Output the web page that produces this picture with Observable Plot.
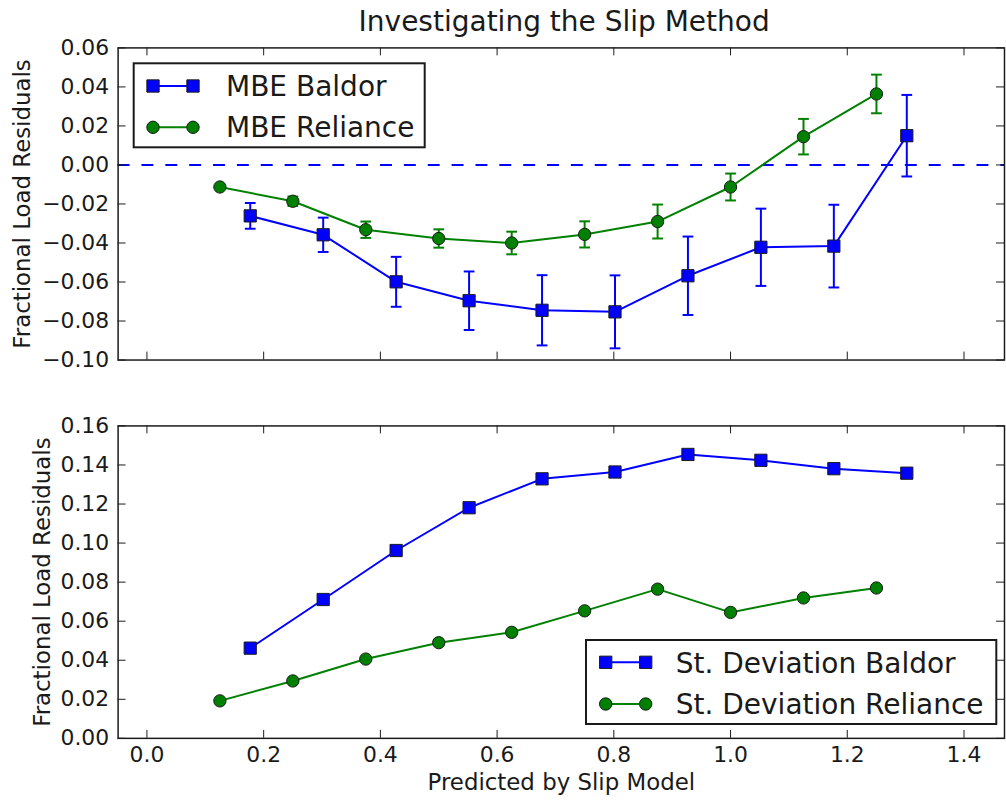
<!DOCTYPE html>
<html><head><meta charset="utf-8">
<script src="https://cdn.jsdelivr.net/npm/d3@7"></script>
<script src="https://cdn.jsdelivr.net/npm/@observablehq/plot@0.6"></script>
<style>
html,body{margin:0;padding:0;background:#fff;overflow:hidden;}
#wrap{position:relative;width:1006px;height:800px;overflow:hidden;font-family:"DejaVu Sans",sans-serif;background:#fff;}
#wrap > *{position:absolute;}
#title{left:118.3px;width:891.7px;top:8px;text-align:center;font-size:28px;line-height:28px;color:#1a1a1a;white-space:nowrap;}
</style></head><body><div id="wrap"><div id="title">Investigating the Slip Method</div></div>
<script>
// ---- data ----
const xReliance = [0.125, 0.25, 0.375, 0.5, 0.625, 0.75, 0.875, 1.0, 1.125, 1.25];
const xBaldor   = [0.177, 0.302, 0.427, 0.552, 0.677, 0.802, 0.927, 1.052, 1.177, 1.302];
const mbeBaldor      = [-0.0261, -0.0358, -0.0599, -0.0696, -0.0745, -0.0753, -0.0568, -0.0422, -0.0416, 0.0150];
const mbeBaldorErr   = [0.0066, 0.0088, 0.0128, 0.0150, 0.0180, 0.0187, 0.0201, 0.0198, 0.0212, 0.0209];
const mbeReliance    = [-0.0113, -0.0186, -0.0332, -0.0377, -0.0400, -0.0356, -0.0290, -0.0113, 0.0145, 0.0364];
const mbeRelianceErr = [0.0000, 0.0024, 0.0042, 0.0047, 0.0058, 0.0067, 0.0087, 0.0069, 0.0091, 0.0099];
const sdBaldor   = [0.0462, 0.0711, 0.0962, 0.1181, 0.1329, 0.1364, 0.1454, 0.1424, 0.1381, 0.1358];
const sdReliance = [0.0192, 0.0294, 0.0406, 0.0490, 0.0543, 0.0653, 0.0764, 0.0645, 0.0719, 0.0770];
const xTicks = [0, 0.2, 0.4, 0.6, 0.8, 1.0, 1.2, 1.4];
const yTicksTop = [-0.10, -0.08, -0.06, -0.04, -0.02, 0.00, 0.02, 0.04, 0.06];
const yTicksBottom = [0.00, 0.02, 0.04, 0.06, 0.08, 0.10, 0.12, 0.14, 0.16];
const legendTop = ["MBE Baldor", "MBE Reliance"];
const legendBottom = ["St. Deviation Baldor", "St. Deviation Reliance"];

// ---- tables ----
const balTop = xBaldor.map((x, i) => ({x, y: mbeBaldor[i], e: mbeBaldorErr[i]}));
const relTop = xReliance.map((x, i) => ({x, y: mbeReliance[i], e: mbeRelianceErr[i]}));
const balBot = xBaldor.map((x, i) => ({x, y: sdBaldor[i]}));
const relBot = xReliance.map((x, i) => ({x, y: sdReliance[i]}));

// ---- layout/style ----
const BLUE = "#0000ff", GREEN = "#008000", INK = "#1a1a1a";
const FW = 1012, ML = 118.3, MR = 2;
const xDomain = [-0.0494, 1.4694];
const topH = 380, topMT = 47.7, topMB = 18.3;
const botH = 420, botMT = 45.7, botMB = 60;
const TICK = 8;
const frameW = FW - ML - MR;
const SQ_R = 6.94, CIRC_R = 6.2;

const capSymbol = {draw(ctx, size) { const w = Math.sqrt(size / Math.PI); ctx.moveTo(-w, 0); ctx.lineTo(w, 0); }};

function tickMarks(yt, frameH) {
  const o = {stroke: INK, strokeWidth: 1};
  return [
    Plot.tickX(xTicks, {x: d => d, insetTop: frameH - TICK, ...o}),
    Plot.tickX(xTicks, {x: d => d, insetBottom: frameH - TICK, ...o}),
    Plot.tickY(yt, {y: d => d, insetRight: frameW - TICK, ...o}),
    Plot.tickY(yt, {y: d => d, insetLeft: frameW - TICK, ...o})
  ];
}
function errMarks(data, color) {
  const d = data.filter(r => r.e > 0);
  return [
    Plot.ruleX(d, {x: "x", y1: r => r.y - r.e, y2: r => r.y + r.e, stroke: color, strokeWidth: 2}),
    Plot.dot(d, {x: "x", y: r => r.y - r.e, symbol: capSymbol, r: 5.4, fill: "none", stroke: color, strokeWidth: 2}),
    Plot.dot(d, {x: "x", y: r => r.y + r.e, symbol: capSymbol, r: 5.4, fill: "none", stroke: color, strokeWidth: 2})
  ];
}
function seriesMarks(data, color, symbol, r) {
  return [
    Plot.line(data, {x: "x", y: "y", stroke: color, strokeWidth: 2}),
    Plot.dot(data, {x: "x", y: "y", symbol, r, fill: color, stroke: INK, strokeWidth: 1})
  ];
}
const style = {fontFamily: "DejaVu Sans", fontSize: "22px", color: INK, background: "transparent", overflow: "visible"};

const topPlot = Plot.plot({
  width: FW, height: topH, marginTop: topMT, marginBottom: topMB, marginLeft: ML, marginRight: MR,
  x: {domain: xDomain, axis: null, label: null},
  y: {domain: [-0.10, 0.06], label: null},
  style,
  marks: [
    Plot.ruleY([0], {stroke: BLUE, strokeWidth: 2, strokeDasharray: "12,12"}),
    ...errMarks(balTop, BLUE),
    ...seriesMarks(balTop, BLUE, "square", SQ_R),
    ...errMarks(relTop, GREEN),
    ...seriesMarks(relTop, GREEN, "circle", CIRC_R),
    ...tickMarks(yTicksTop, topH - topMT - topMB),
    Plot.frame({stroke: INK, strokeWidth: 1.5}),
    Plot.axisY(yTicksTop, {tickSize: 0, tickPadding: 9, tickFormat: d3.format(".2f"), fontSize: 22, label: null}),
    Plot.text(["Fractional Load Residuals"], {frameAnchor: "left", rotate: -90, dx: -89, textAnchor: "middle", lineAnchor: "bottom", fontSize: 23, fill: INK})
  ]
});

const botPlot = Plot.plot({
  width: FW, height: botH, marginTop: botMT, marginBottom: botMB, marginLeft: ML, marginRight: MR,
  x: {domain: xDomain, label: null},
  y: {domain: [0, 0.16], label: null},
  style,
  marks: [
    ...seriesMarks(balBot, BLUE, "square", SQ_R),
    ...seriesMarks(relBot, GREEN, "circle", CIRC_R),
    ...tickMarks(yTicksBottom, botH - botMT - botMB),
    Plot.frame({stroke: INK, strokeWidth: 1.5}),
    Plot.axisY(yTicksBottom, {tickSize: 0, tickPadding: 9, tickFormat: d3.format(".2f"), fontSize: 22, label: null}),
    Plot.axisX(xTicks, {tickSize: 0, tickPadding: 8.5, tickFormat: d3.format(".1f"), fontSize: 22, label: null}),
    Plot.text(["Fractional Load Residuals"], {frameAnchor: "left", rotate: -90, dx: -69, textAnchor: "middle", lineAnchor: "bottom", fontSize: 23, fill: INK}),
    Plot.text(["Predicted by Slip Model"], {frameAnchor: "bottom", dy: 51.5, textAnchor: "middle", lineAnchor: "bottom", fontSize: 23, fill: INK})
  ]
});

const wrap = document.getElementById("wrap");
topPlot.style.left = "0px"; topPlot.style.top = "0px";
botPlot.style.left = "0px"; botPlot.style.top = topH + "px";
wrap.insertBefore(botPlot, wrap.firstChild);
wrap.insertBefore(topPlot, wrap.firstChild);

// ---- legends ----
const leg = d3.select(wrap).append("svg").attr("width", 1006).attr("height", 800)
  .style("left", "0px").style("top", "0px").style("pointer-events", "none");
function drawLegend(box, labels, rows) {
  leg.append("rect").attr("x", box.x).attr("y", box.y).attr("width", box.w).attr("height", box.h)
    .attr("fill", "#fff").attr("stroke", INK).attr("stroke-width", 2);
  const specs = [{color: BLUE, sym: d3.symbolSquare, size: 12.3 * 12.3}, {color: GREEN, sym: d3.symbolCircle, size: Math.PI * CIRC_R * CIRC_R}];
  labels.forEach((lab, i) => {
    const r = rows[i], s = specs[i];
    leg.append("line").attr("x1", box.m1).attr("x2", box.m2).attr("y1", r.cy).attr("y2", r.cy)
      .attr("stroke", s.color).attr("stroke-width", 2);
    [box.m1, box.m2].forEach(mx => leg.append("path").attr("d", d3.symbol(s.sym, s.size)())
      .attr("transform", `translate(${mx},${r.cy})`).attr("fill", s.color).attr("stroke", INK).attr("stroke-width", 1));
    leg.append("text").attr("x", box.tx).attr("y", r.base).text(lab)
      .attr("font-family", "DejaVu Sans").attr("font-size", 28).attr("fill", INK);
  });
}
drawLegend({x: 133.7, y: 63.3, w: 291, h: 84, m1: 153, m2: 193, tx: 226}, legendTop, [{cy: 86, base: 96}, {cy: 127.3, base: 137.3}]);
drawLegend({x: 586, y: 640, w: 410.3, h: 84, m1: 605.7, m2: 645.7, tx: 675.7}, legendBottom, [{cy: 662.3, base: 672.7}, {cy: 704, base: 714}]);
</script></body></html>
